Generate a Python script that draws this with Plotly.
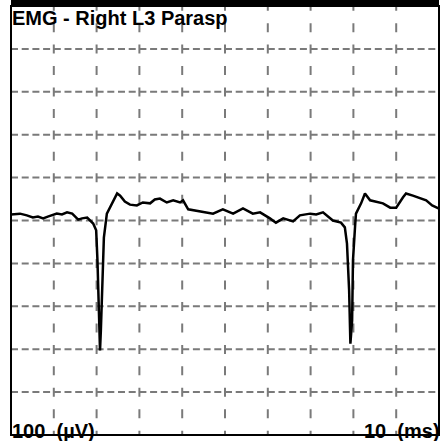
import plotly.graph_objects as go

# Data (time in ms, amplitude in µV)
time_ms = [0, 2.1, 3.7, 5.1, 6.3, 7.5, 8.6, 9.8, 10.7, 11.9, 13.1, 14.3, 15.7, 16.6, 17.8, 19.2, 19.9,
           20.2, 20.6, 20.8, 21.0, 21.3, 21.7, 22.4, 23.1, 24.1, 24.8, 25.5, 26.6, 27.8, 29.4, 30.8,
           32.5, 33.6, 34.8, 36.4, 37.9, 39.5, 40.2, 41.4, 44.2, 45.6, 47.2, 48.8, 49.5, 51.9, 54.2,
           56.5, 58.2, 60.5, 61.9, 63.6, 65.9, 67.5, 69.9, 71.3, 72.2, 72.9, 75.2, 77.1, 78.0, 78.5,
           79.0, 79.3, 79.7, 79.9, 80.4, 80.6, 81.8, 82.7, 83.9, 85.3, 86.9, 88.6, 90.0, 91.6, 92.3,
           93.9, 95.6, 97.0, 98.4, 100]
amp_uv = [14, 16, 12, 7, 9, 5, 9, 12, 16, 14, 19, 16, 2, 5, 7, -7, -23,
          -93, -233, -303, -256, -140, -40, 16, 30, 51, 63, 58, 44, 37, 35, 42,
          40, 49, 51, 42, 47, 42, 47, 26, 21, 19, 16, 23, 26, 16, 28,
          16, 19, 5, -5, 5, -2, 12, 16, 14, 16, 19, 0, -5, -16, -54,
          -163, -287, -233, -93, -12, 16, 40, 63, 47, 44, 40, 30, 30, 54, 63,
          58, 51, 47, 35, 28]

x_grid = [10, 20, 30, 40, 50, 60, 70, 80, 90]
y_grid = [-400, -300, -200, -100, 0, 100, 200, 300, 400]

title_text = "EMG - Right L3 Parasp"
y_scale_text = "100&nbsp;&nbsp;(µV)"
x_scale_text = "10&nbsp;&nbsp;(ms)"

W, H = 446, 441
L, R, T, B = 11, 7, 6, 6
XR = (0, 100)
YR = (-500, 500)
PH = H - T - B

fig = go.Figure()

shapes = []
grid_col = "#7a7a7a"
for xv in x_grid:
    shapes.append(dict(type="line", xref="x", yref="y", x0=xv, x1=xv, y0=YR[1] + 10, y1=YR[0] - 10,
                       line=dict(color=grid_col, width=2, dash="9px,12.45px"), layer="below"))
for yv in y_grid:
    shapes.append(dict(type="line", xref="x", yref="y", x0=XR[0], x1=XR[1], y0=yv, y1=yv,
                       line=dict(color=grid_col, width=2, dash="7px,3.7px"), layer="below"))
# frame
shapes.append(dict(type="rect", xref="paper", yref="paper", x0=0, x1=1, y0=0, y1=1,
                   line=dict(color="black", width=2), fillcolor="rgba(0,0,0,0)"))
# top black bar
shapes.append(dict(type="rect", xref="paper", yref="paper", x0=0, x1=1, y0=1, y1=1 + 6 / PH,
                   line=dict(width=0), fillcolor="black"))

fig.add_trace(go.Scatter(x=time_ms, y=amp_uv, mode="lines",
                         line=dict(color="black", width=2.5), hoverinfo="skip", showlegend=False))

fnt = dict(family="Liberation Sans, Arial, sans-serif", size=20, color="black")
annotations = [
    dict(text="<b>%s</b>" % title_text, xref="paper", yref="paper", x=0.0, y=1,
         xanchor="left", yanchor="top", showarrow=False, font=fnt, borderpad=0, xshift=0, yshift=0),
    dict(text="<b>%s</b>" % y_scale_text, xref="paper", yref="paper", x=0.0, y=0,
         xanchor="left", yanchor="middle", showarrow=False, font=fnt, borderpad=0, yshift=4),
    dict(text="<b>%s</b>" % x_scale_text, xref="paper", yref="paper", x=1.0, y=0,
         xanchor="right", yanchor="middle", showarrow=False, font=fnt, borderpad=0, yshift=4, xshift=2),
]

fig.update_layout(
    width=W, height=H, margin=dict(l=L, r=R, t=T, b=B, autoexpand=False),
    paper_bgcolor="white", plot_bgcolor="white",
    shapes=shapes, annotations=annotations, showlegend=False,
    xaxis=dict(range=list(XR), showgrid=False, zeroline=False, showticklabels=False, ticks="", fixedrange=True),
    yaxis=dict(range=list(YR), showgrid=False, zeroline=False, showticklabels=False, ticks="", fixedrange=True),
)

fig.write_html("out.html", config={"displayModeBar": False},
               post_script="document.body.style.margin='0';document.body.style.overflow='hidden';")
